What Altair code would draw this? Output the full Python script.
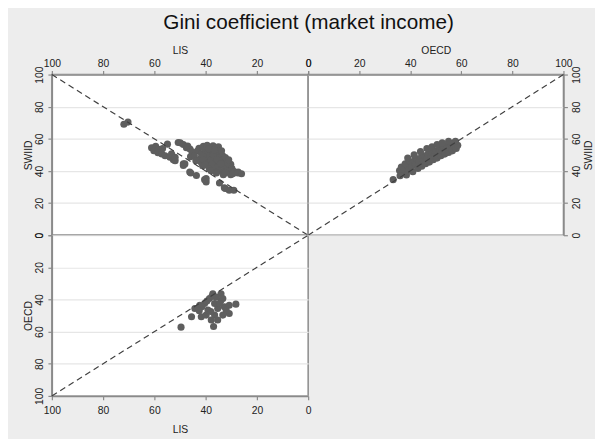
import altair as alt
import pandas as pd

# ---- data ----
ticks = [0, 20, 40, 60, 80, 100]
diag_vals = [0, 100]

# top-left panel: LIS (x) vs SWIID (y)
tl_lis = [71.9, 70.3,
          61.1, 59.5, 60.2, 58.4, 58.6, 56.8, 54.9, 50.7,
          57.1, 55.8, 53.9, 52.6, 51.9, 53.3, 51.9, 48.7, 48.7,
          49.9, 48.7, 47.5, 46.1, 47.0,
          42.6, 40.9, 39.4, 37.1, 36.3, 35.0, 34.8,
          45.3, 43.2, 41.6, 40.1, 39.3, 37.9, 35.7, 34.2, 33.4,
          45.9, 44.4, 42.1, 41.3, 39.2, 38.4, 36.1, 35.4, 33.2, 32.3,
          43.8, 41.7, 40.9, 38.7, 37.8, 35.6, 34.9, 32.7, 31.8, 30.2,
          41.2, 40.3, 38.1, 37.4, 35.2, 34.3, 32.1, 31.4, 29.8,
          38.6, 37.9, 35.7, 34.8, 32.6, 31.9, 29.7, 28.9, 27.3,
          35.8, 33.1, 32.4, 30.2, 29.4, 27.4, 26.0,
          45.8, 43.6, 40.4, 39.8, 34.6, 32.3, 30.8, 29.0, 48.1, 46.2, 39.8, 32.7,
          37.0, 35.5, 33.8, 36.6, 38.9, 31.0, 34.0]
tl_swiid = [69.1, 70.4,
            54.4, 55.4, 52.6, 53.5, 51.3, 54.0, 56.7, 57.7,
            50.6, 49.5, 48.5, 46.9, 46.4, 50.6, 48.5, 44.4, 43.4,
            57.5, 56.5, 54.5, 53.6, 55.5,
            54.1, 55.4, 56.0, 55.7, 54.3, 55.1, 52.4,
            51.9, 52.4, 50.6, 52.9, 51.1, 52.4, 51.4, 50.1, 49.6,
            48.9, 49.4, 47.6, 49.3, 47.7, 49.4, 48.1, 48.4, 47.1, 48.3,
            46.3, 45.2, 46.8, 45.1, 46.9, 45.8, 46.3, 44.7, 45.8, 44.2,
            43.3, 43.8, 42.7, 44.3, 42.7, 43.8, 42.2, 43.3, 41.7,
            41.3, 40.2, 41.8, 40.1, 41.3, 39.8, 40.8, 39.7, 39.3,
            38.8, 37.7, 38.8, 37.7, 38.3, 38.8, 38.3,
            38.7, 37.2, 34.6, 33.1, 32.5, 29.1, 28.0, 28.0, 44.4, 39.3, 35.2, 29.5,
            50.0, 47.0, 52.5, 53.2, 53.8, 47.0, 44.6]

# top-right panel: OECD (x) vs SWIID (y)
tr_oecd = [33.3, 35.8, 36.5, 37.0, 37.5, 38.9, 38.0, 39.5, 40.0, 40.5, 41.6, 41.0,
           42.0, 42.5, 43.0, 43.5, 44.3, 44.5, 45.0, 45.5, 46.0, 46.6, 47.0, 47.5,
           48.0, 48.5, 49.0, 49.5, 50.0, 50.5, 51.0, 51.5, 52.0, 52.5, 53.0, 53.5,
           54.0, 54.5, 55.0, 55.5, 56.0, 56.5, 57.0, 57.5, 58.0, 58.6, 38.5, 36.0,
           57.7, 39.0, 41.5, 44.0, 46.5, 48.5, 50.5, 52.5, 55.0]
tr_swiid = [34.6, 40.3, 42.5, 38.5, 41.0, 43.5, 44.5, 40.5, 45.5, 42.5, 46.5, 39.5,
            44.0, 47.5, 41.5, 45.5, 48.5, 43.0, 46.5, 49.5, 44.5, 48.0, 50.5, 45.5,
            49.0, 51.5, 47.0, 50.0, 52.5, 48.0, 51.0, 53.5, 49.5, 52.5, 55.0, 50.5,
            53.5, 56.0, 51.5, 54.5, 57.0, 52.5, 55.5, 57.8, 54.0, 56.0, 37.5, 37.0,
            58.5, 48.0, 50.0, 52.0, 54.0, 55.0, 56.5, 57.5, 58.5]

# bottom-left panel: LIS (x) vs OECD (y)
bl_lis = [49.6, 36.9, 45.5, 41.7, 39.8, 44.2, 42.3, 40.4, 38.5, 37.2, 34.0, 34.0,
          35.3, 32.7, 30.8, 28.2, 30.8, 33.3, 36.5, 37.8, 35.3, 39.1, 36.5, 33.3,
          41.5, 39.5, 37.5, 36.0, 34.5, 32.0, 38.0, 42.5]
bl_oecd = [57.2, 56.8, 50.7, 50.7, 49.7, 45.6, 43.6, 42.5, 39.4, 36.4, 36.4, 40.5,
           45.6, 44.5, 43.6, 42.9, 48.7, 49.7, 49.7, 52.8, 52.8, 46.6, 42.5, 39.4,
           44.5, 41.0, 38.0, 38.5, 42.5, 46.5, 47.5, 47.0]

# ---- styling ----
BG = "#ededed"
AXC = "#8a8a8a"
PTC = "#5e5e5e"
LNC = "#404040"
FONT = "Liberation Sans"
H = 163


def axis_top(title):
    return alt.Axis(orient="top", title=title, values=ticks, grid=False,
                    labelPadding=2, titlePadding=3.75)


def axis_bottom(title):
    return alt.Axis(orient="bottom", title=title, values=ticks, grid=False,
                    labelPadding=5.5, titlePadding=9)


def axis_left(title):
    return alt.Axis(orient="left", title=title, values=ticks, grid=True,
                    labelAngle=270, labelAlign="center", labelBaseline="alphabetic",
                    labelPadding=6, titlePadding=1)


def axis_right(title):
    return alt.Axis(orient="right", title=title, values=ticks, grid=True,
                    labelAngle=270, labelAlign="center", labelBaseline="top",
                    labelPadding=3.8, titleAngle=270, titleBaseline="top", titlePadding=2)


def panel(xs, ys, xaxis, yaxis, xrev, yrev, w):
    df = pd.DataFrame({"x": xs, "y": ys})
    diag = pd.DataFrame({"x": diag_vals, "y": diag_vals})
    xsc = alt.Scale(domain=[0, 100], reverse=xrev, nice=False, zero=False)
    ysc = alt.Scale(domain=[0, 100], reverse=yrev, nice=False, zero=False)
    pts = alt.Chart(df).mark_circle(size=52, color=PTC, opacity=1).encode(
        x=alt.X("x:Q", scale=xsc, axis=xaxis),
        y=alt.Y("y:Q", scale=ysc, axis=yaxis),
    )
    line = alt.Chart(diag).mark_line(color=LNC, strokeDash=[6, 4], strokeWidth=1.2).encode(
        x=alt.X("x:Q", scale=xsc, axis=xaxis),
        y=alt.Y("y:Q", scale=ysc, axis=yaxis),
    )
    return alt.layer(pts, line).properties(width=w, height=H)


tl = panel(tl_lis, tl_swiid, axis_top("LIS"), axis_left("SWIID"), True, False, 260)
tr = panel(tr_oecd, tr_swiid, axis_top("OECD"), axis_right("SWIID"), False, False, 259)
bl = panel(bl_lis, bl_oecd, axis_bottom("LIS"), axis_left("OECD"), True, True, 260)

chart = alt.concat(tl, tr, bl, columns=2, spacing=0, bounds="flush").properties(
    title=alt.TitleParams("Gini coefficient (market income)", fontSize=21, font=FONT,
                          fontWeight="normal", color="#111", offset=11.5, anchor="middle"),
    background=BG,
    padding={"left": 14.5, "top": 1.4, "right": 0, "bottom": 0},
).configure_view(
    fill="white", stroke=AXC, strokeWidth=1.5
).configure_axis(
    labelFont=FONT, labelFontSize=10.5, labelColor="#222",
    titleFont=FONT, titleFontSize=10.5, titleFontWeight="normal", titleColor="#222",
    domainColor=AXC, domainWidth=1.5, tickColor=AXC, tickWidth=1.2, tickSize=4,
    gridColor="#e6e6e6", gridWidth=1.2, labelFlush=False, labelOverlap=False,
)

chart.save("out.html", embed_options={"renderer": "svg", "actions": False})
